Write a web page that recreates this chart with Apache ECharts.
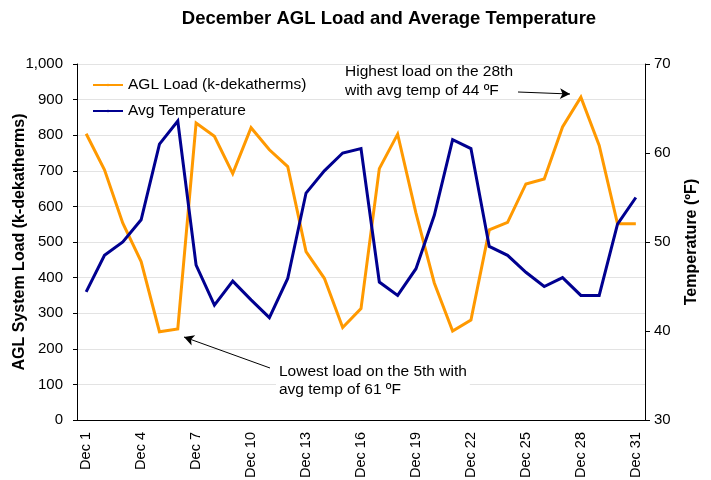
<!DOCTYPE html>
<html>
<head>
<meta charset="utf-8">
<script src="https://cdn.jsdelivr.net/npm/echarts@6/dist/echarts.min.js"></script>
<style>
  html, body { margin: 0; padding: 0; background: #fff; }
  #chart { width: 711px; height: 480px; }
</style>
</head>
<body>
<div id="chart"></div>
<script>
// december days
const days = [];
for (let d = 1; d <= 31; d++) days.push('Dec ' + d);

// AGL load, k-dekatherms
const loadValues = [804, 703, 553, 445, 248, 256, 834, 797, 692, 821,
  759, 712, 473, 398, 260, 313, 706, 803, 581, 385,
  250, 281, 534, 555, 663, 677, 823, 907, 771, 551, 551];

// avg temperature, F
const tempValues = [44.4, 48.5, 50, 52.5, 61, 63.6, 47.4, 42.9, 45.6, 43.5,
  41.5, 45.9, 55.5, 58, 60, 60.5, 45.5, 44, 47, 53,
  61.5, 60.5, 49.5, 48.5, 46.6, 45, 46, 44, 44, 52, 55];

const loadTicks = { min: 0, max: 1000, step: 100 };
const tempTicks = { min: 30, max: 70, step: 10 };

const FONT = 'Liberation Sans, Arial, sans-serif';
const chart = echarts.init(document.getElementById('chart'));

const option = {
  backgroundColor: '#fff',
  animation: false,
  textStyle: { fontFamily: FONT },
  title: {
    text: 'December AGL Load and Average Temperature',
    left: 384, top: 4, textAlign: 'center',
    textStyle: { fontFamily: FONT, fontSize: 18.5, fontWeight: 'bold', color: '#000' }
  },
  legend: {
    orient: 'vertical',
    left: 87, top: 72,
    itemWidth: 30, itemHeight: 3, itemGap: 10,
    textStyle: { fontFamily: FONT, fontSize: 15.5, color: '#000' },
    data: ['AGL Load (k-dekatherms)', 'Avg Temperature']
  },
  grid: { left: 77, right: 66, top: 64, bottom: 60, outerBoundsMode: 'none', containLabel: false },
  xAxis: {
    type: 'category',
    data: days,
    boundaryGap: true,
    axisLine: { lineStyle: { color: '#000', width: 1 } },
    axisTick: { interval: 2, length: 5, lineStyle: { color: '#000' } },
    axisLabel: { interval: 2, rotate: 90, fontSize: 14.5, color: '#000', margin: 12, fontFamily: FONT }
  },
  yAxis: [{
    type: 'value',
    min: loadTicks.min, max: loadTicks.max, interval: loadTicks.step,
    name: 'AGL System Load (k-dekatherms)',
    nameLocation: 'middle', nameGap: 49, nameRotate: 90, nameMoveOverlap: false,
    nameTextStyle: { fontFamily: FONT, fontSize: 16, fontWeight: 'bold', color: '#000' },
    axisLine: { show: true, lineStyle: { color: '#000', width: 1 } },
    axisTick: { show: true, length: 4, lineStyle: { color: '#000' } },
    axisLabel: {
      fontSize: 15, color: '#000', margin: 14, fontFamily: FONT,
      formatter: v => v.toLocaleString('en-US')
    },
    splitLine: { lineStyle: { color: '#e3e3e3', width: 1 } }
  }, {
    type: 'value',
    min: tempTicks.min, max: tempTicks.max, interval: tempTicks.step,
    name: 'Temperature (ºF)',
    nameLocation: 'middle', nameGap: 39, nameRotate: 90, nameMoveOverlap: false,
    nameTextStyle: { fontFamily: FONT, fontSize: 16, fontWeight: 'bold', color: '#000' },
    axisLine: { show: true, lineStyle: { color: '#000', width: 1 } },
    axisTick: { show: true, length: 5, lineStyle: { color: '#000' } },
    axisLabel: { fontSize: 15, color: '#000', margin: 9, fontFamily: FONT },
    splitLine: { show: false }
  }],
  series: [{
    name: 'AGL Load (k-dekatherms)',
    type: 'line',
    data: loadValues,
    yAxisIndex: 0,
    symbol: 'none',
    color: '#FF9900',
    lineStyle: { color: '#FF9900', width: 3, join: 'miter' },
    markLine: {
      silent: true,
      symbol: ['none', 'arrow'],
      symbolSize: [8, 10],
      label: { show: false },
      lineStyle: { color: '#000', width: 1, type: 'solid' },
      data: [
        [{ x: 518, y: 92 }, { x: 570, y: 94 }],
        [{ x: 270, y: 368 }, { x: 184, y: 337 }]
      ]
    }
  }, {
    name: 'Avg Temperature',
    type: 'line',
    data: tempValues,
    yAxisIndex: 1,
    symbol: 'none',
    color: '#000090',
    lineStyle: { color: '#000090', width: 3, join: 'miter' }
  }],
  graphic: [{
    type: 'text', left: 345, top: 62, z: 100,
    style: {
      text: 'Highest load on the 28th\nwith avg temp of 44 ºF',
      font: '15.5px ' + FONT, fill: '#000', lineHeight: 19
    }
  }, {
    type: 'text', left: 276, top: 361, z: 100,
    style: {
      text: 'Lowest load on the 5th with\navg temp of 61 ºF',
      font: '15.5px ' + FONT, fill: '#000', lineHeight: 18.5,
      backgroundColor: '#fff', padding: [1, 3, 3, 3]
    }
  }]
};

chart.setOption(option);
</script>
</body>
</html>
